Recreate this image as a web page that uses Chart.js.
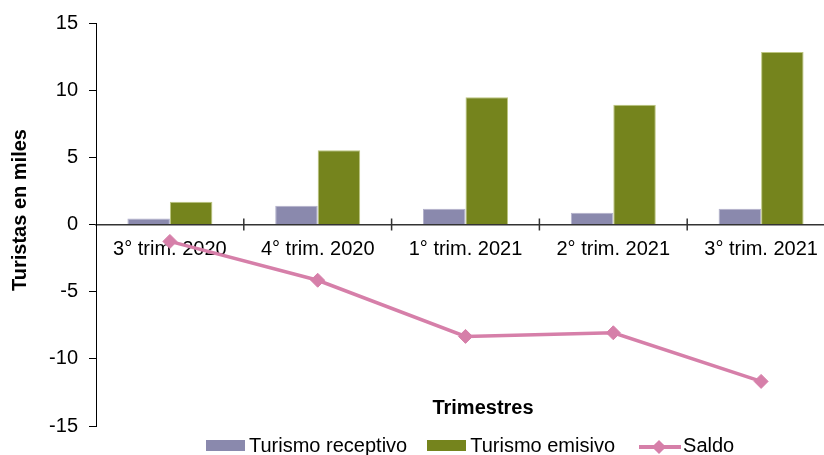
<!DOCTYPE html>
<html>
<head>
<meta charset="utf-8">
<script src="https://cdn.jsdelivr.net/npm/chart.js@4.4.1/dist/chart.umd.min.js"></script>
<style>
html,body{margin:0;padding:0;background:#fff;overflow:hidden;}
#wrap{position:relative;width:824px;height:455px;overflow:hidden;background:#fff;}
#c{position:absolute;left:0;top:0;}
#legend{position:absolute;left:206px;top:433px;height:24px;display:flex;align-items:center;
  font-family:"Liberation Sans",Arial,Helvetica,sans-serif;font-size:20px;line-height:24px;color:#000;white-space:nowrap;}
.item{display:flex;align-items:center;}
.box{display:inline-block;width:39px;height:11px;margin-right:4px;}
.lm{position:relative;display:inline-block;width:42px;height:16px;margin-right:2px;top:2px;}
.ln{position:absolute;left:0;right:0;top:6px;height:4px;}
.dm{position:absolute;left:15px;top:3px;width:10px;height:10px;transform:rotate(45deg);}
</style>
</head>
<body>
<div id="wrap">
  <canvas id="c" width="845" height="455"></canvas>
  <div id="legend"></div>
</div>
<script>
// ---- data ----
const categories = ['3° trim. 2020', '4° trim. 2020', '1° trim. 2021', '2° trim. 2021', '3° trim. 2021'];
const receptivo = [0.44, 1.40, 1.18, 0.87, 1.17];
const emisivo = [1.70, 5.53, 9.48, 8.92, 12.84];
const saldo = [-1.26, -4.15, -8.33, -8.06, -11.68];
const seriesNames = ['Turismo receptivo', 'Turismo emisivo', 'Saldo'];
const yMin = -15, yMax = 15, yStep = 5;
const yTitle = 'Turistas en miles';
const xTitle = 'Trimestres';

// ---- styles ----
const FONT = '"Liberation Sans", Arial, Helvetica, sans-serif';
const colReceptivo = '#8a89ad';
const colEmisivo = '#75841d';
const colSaldo = '#d67fa9';

Chart.defaults.font.family = FONT;
Chart.defaults.font.size = 20;
Chart.defaults.color = '#000';

const decor = {
  id: 'decor',
  afterDraw(chart) {
    const ctx = chart.ctx;
    const x = chart.scales.x, y = chart.scales.y;
    const y0 = y.getPixelForValue(0);
    ctx.save();
    // category boundary tick marks crossing the zero axis
    ctx.strokeStyle = '#333';
    ctx.lineWidth = 1.5;
    for (let i = 0; i < categories.length; i++) {
      const a = x.getPixelForValue(i);
      const b = i + 1 < categories.length ? x.getPixelForValue(i + 1) : a + (a - x.getPixelForValue(i - 1));
      const bx = (a + b) / 2;
      ctx.beginPath();
      ctx.moveTo(bx, y0 - 6);
      ctx.lineTo(bx, y0 + 6);
      ctx.stroke();
    }
    // axis titles
    ctx.fillStyle = '#000';
    ctx.font = 'bold 20px ' + FONT;
    ctx.textAlign = 'center';
    ctx.textBaseline = 'middle';
    ctx.fillText(xTitle, 483, 408);
    ctx.translate(20, 210);
    ctx.rotate(-Math.PI / 2);
    ctx.fillText(yTitle, 0, 0);
    ctx.restore();
  }
};

new Chart(document.getElementById('c'), {
  type: 'bar',
  data: {
    labels: categories,
    datasets: [
      {
        type: 'line', label: seriesNames[2], data: saldo,
        borderColor: colSaldo, backgroundColor: colSaldo, borderWidth: 3.5,
        pointStyle: 'rectRot', pointRadius: 7, pointHoverRadius: 7, pointBorderWidth: 1,
        tension: 0, order: 1
      },
      {
        label: seriesNames[0], data: receptivo,
        backgroundColor: colReceptivo, borderColor: '#b2b1cb', borderWidth: 1,
        barPercentage: 1, categoryPercentage: 0.575, order: 2
      },
      {
        label: seriesNames[1], data: emisivo,
        backgroundColor: colEmisivo, borderColor: '#bcc57f', borderWidth: 1,
        barPercentage: 1, categoryPercentage: 0.575, order: 2
      }
    ]
  },
  options: {
    responsive: false,
    animation: false,
    layout: { padding: { left: 0, right: 10, top: 20, bottom: 29 } },
    plugins: { legend: { display: false }, tooltip: { enabled: false } },
    scales: {
      x: {
        position: { y: 0 },
        offset: true,
        grid: { display: false, drawTicks: false, tickLength: 0 },
        border: { display: true, color: '#333', width: 1.5 },
        ticks: { padding: 13, maxRotation: 0, autoSkip: false, color: '#000', font: { size: 20 } }
      },
      y: {
        min: yMin, max: yMax,
        ticks: { stepSize: yStep, padding: 11, color: '#000', font: { size: 20 } },
        grid: { drawOnChartArea: false, drawTicks: true, tickLength: 7, color: '#000', lineWidth: 1 },
        border: { display: true, color: '#000', width: 1 },
        afterFit(scale) { scale.width = 96; }
      }
    }
  },
  plugins: [decor]
});

// ---- HTML legend ----
const legend = document.getElementById('legend');
const legendDefs = [
  { name: seriesNames[0], kind: 'box', color: colReceptivo, gap: 20 },
  { name: seriesNames[1], kind: 'box', color: colEmisivo, gap: 24 },
  { name: seriesNames[2], kind: 'line', color: colSaldo, gap: 0 }
];
legendDefs.forEach(d => {
  const it = document.createElement('span');
  it.className = 'item';
  it.style.marginRight = d.gap + 'px';
  if (d.kind === 'box') {
    const b = document.createElement('span');
    b.className = 'box';
    b.style.background = d.color;
    it.appendChild(b);
  } else {
    const m = document.createElement('span');
    m.className = 'lm';
    const l = document.createElement('span'); l.className = 'ln'; l.style.background = d.color;
    const dm = document.createElement('span'); dm.className = 'dm'; dm.style.background = d.color;
    m.appendChild(l); m.appendChild(dm);
    it.appendChild(m);
  }
  const t = document.createElement('span');
  t.textContent = d.name;
  it.appendChild(t);
  legend.appendChild(it);
});
</script>
</body>
</html>
